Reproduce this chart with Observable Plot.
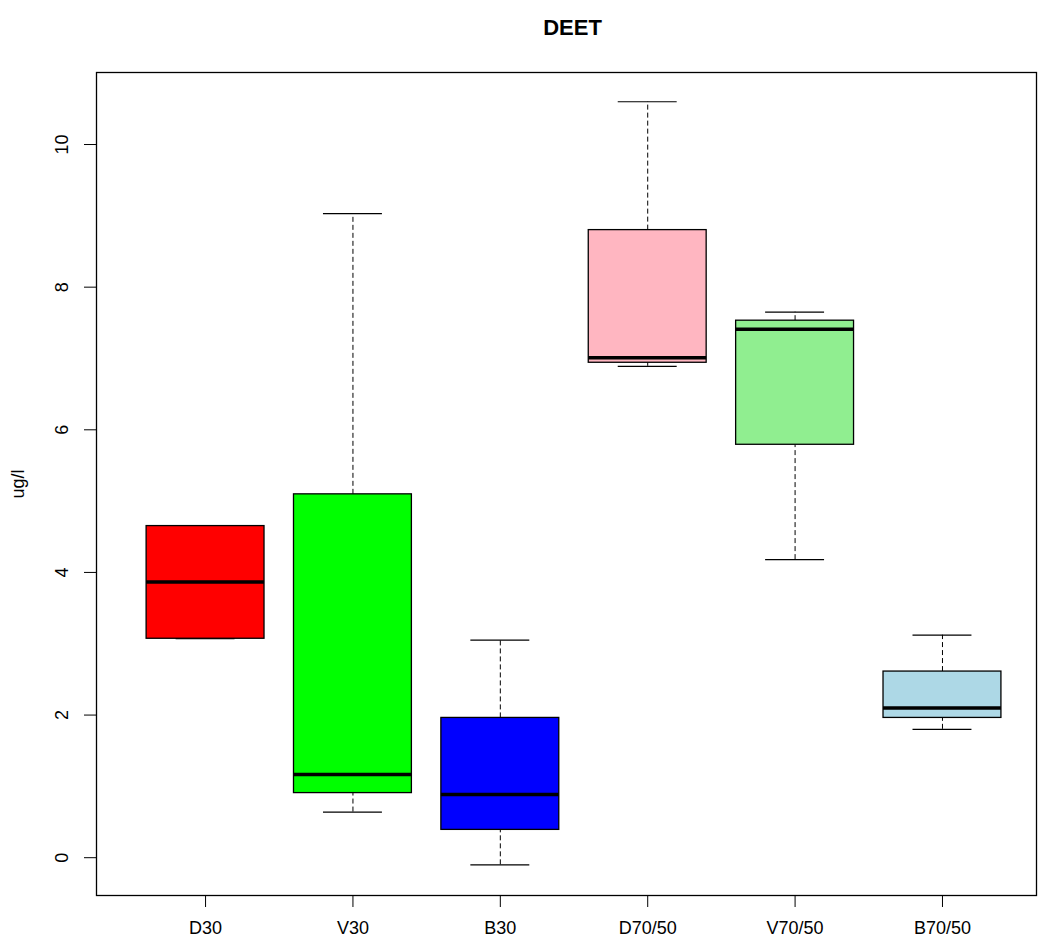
<!DOCTYPE html>
<html>
<head>
<meta charset="utf-8">
<script src="https://cdn.jsdelivr.net/npm/d3@7"></script>
<script src="https://cdn.jsdelivr.net/npm/@observablehq/plot@0.6"></script>
<style>
  html, body { margin: 0; padding: 0; background: #fff; }
  #chart svg { display: block; }
</style>
</head>
<body>
<div id="chart"></div>
<script>
const groups = ["D30", "V30", "B30", "D70/50", "V70/50", "B70/50"];
const lowerWhisker = [3.07, 0.64, -0.10, 6.89, 4.18, 1.80];
const q1 = [3.07, 0.906, 0.39, 6.94, 5.79, 1.96];
const median = [3.865, 1.168, 0.885, 7.01, 7.41, 2.10];
const q3 = [4.65, 5.095, 1.96, 8.80, 7.53, 2.61];
const upperWhisker = [4.65, 9.03, 3.05, 10.6, 7.65, 3.12];
const fills = ["#FF0000", "#00FF00", "#0000FF", "#FFB6C1", "#90EE90", "#ADD8E6"];
const yTicks = [0, 2, 4, 6, 8, 10];
const title = "DEET";
const yLabel = "ug/l";

const data = groups.map((g, i) => ({
  name: g, pos: i + 1,
  lw: lowerWhisker[i], q1: q1[i], med: median[i], q3: q3[i], uw: upperWhisker[i],
  fill: fills[i]
}));

const font = "'Liberation Sans', Arial, sans-serif";
const halfBox = 0.4, halfStaple = 0.2;

const chart = Plot.plot({
  width: 1038,
  height: 938,
  marginTop: 72,
  marginBottom: 43,
  marginLeft: 96,
  marginRight: 2,
  style: { fontFamily: font, fontSize: "18px", color: "#000", background: "#fff" },
  x: { domain: [0.26, 6.638], axis: null },
  y: { domain: [-0.53, 11.01], axis: null },
  marks: [
    // whiskers (dashed)
    Plot.ruleX(data, { x: "pos", y1: "q3", y2: "uw", stroke: "#000", strokeDasharray: "5,3", strokeWidth: 1 }),
    Plot.ruleX(data, { x: "pos", y1: "lw", y2: "q1", stroke: "#000", strokeDasharray: "5,3", strokeWidth: 1 }),
    // staples
    Plot.ruleY(data, { y: "uw", x1: d => d.pos - halfStaple, x2: d => d.pos + halfStaple, stroke: "#000", strokeWidth: 1.2 }),
    Plot.ruleY(data, { y: "lw", x1: d => d.pos - halfStaple, x2: d => d.pos + halfStaple, stroke: "#000", strokeWidth: 1.2 }),
    // boxes
    Plot.rect(data, { x1: d => d.pos - halfBox, x2: d => d.pos + halfBox, y1: "q1", y2: "q3", fill: "fill", stroke: "#000", strokeWidth: 1.3 }),
    // medians
    Plot.ruleY(data, { y: "med", x1: d => d.pos - halfBox, x2: d => d.pos + halfBox, stroke: "#000", strokeWidth: 3.5 }),
    // frame
    Plot.frame({ stroke: "#000", strokeWidth: 1.3 }),
    // y axis ticks
    Plot.axisY(yTicks, { ticks: yTicks, tickSize: 12, tickFormat: () => "", label: null, stroke: "#000", strokeOpacity: 1 }),
    Plot.text(yTicks, { y: d => d, text: d => String(d), frameAnchor: "left", lineAnchor: "middle", textAnchor: "middle", dx: -34, rotate: -90, fontSize: 18, fill: "#000" }),
    // x axis ticks + labels
    Plot.axisX(data.map(d => d.pos), { ticks: data.map(d => d.pos), tickSize: 12, tickFormat: () => "", label: null, stroke: "#000", strokeOpacity: 1 }),
    Plot.text(data, { x: "pos", text: "name", frameAnchor: "bottom", lineAnchor: "middle", dy: 33, fontSize: 18, fill: "#000" }),
    // y label
    Plot.text([yLabel], { text: d => d, frameAnchor: "left", lineAnchor: "middle", textAnchor: "middle", dx: -78, rotate: -90, fontSize: 18, fill: "#000" }),
    // title
    Plot.text([title], { text: d => d, frameAnchor: "top", lineAnchor: "middle", dy: -45, dx: 6, fontSize: 22, fontWeight: "bold", fill: "#000" })
  ]
});

document.getElementById("chart").appendChild(chart);
</script>
</body>
</html>
